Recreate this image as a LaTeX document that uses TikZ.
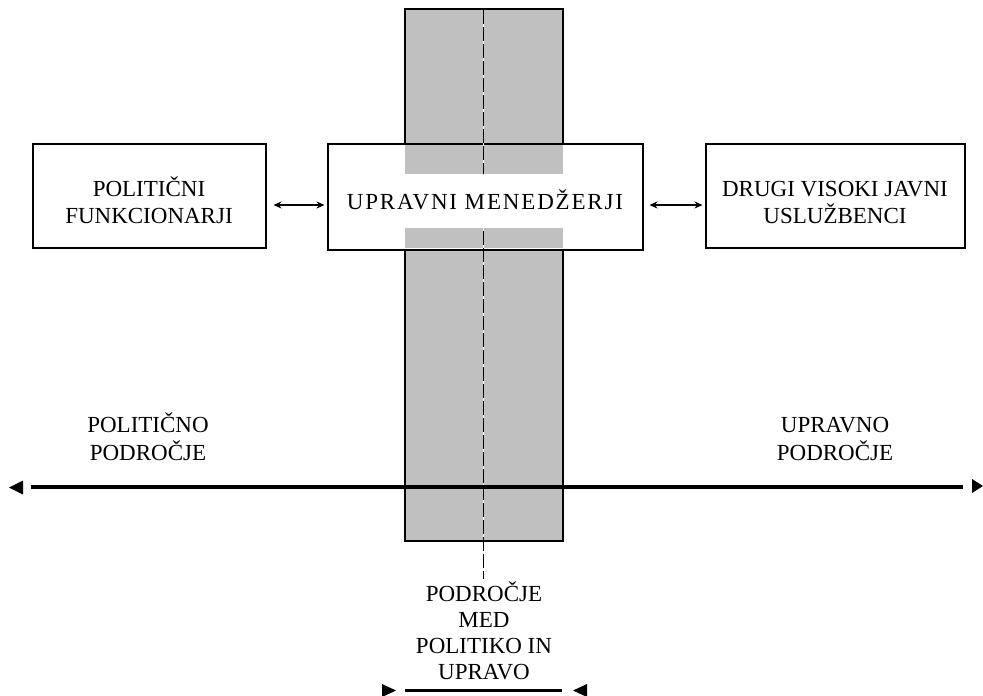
\documentclass[tikz,border=0pt]{standalone}
\usepackage{fontspec}
\setmainfont{Liberation Serif}
\usetikzlibrary{arrows.meta,calc}
\definecolor{zonegray}{HTML}{C0C0C0}
% struts that fix the first-line height and last-line depth of stacked labels
\newcommand\tstrut{\rule{0pt}{33pt}}
\newcommand\bstrut{\rule[-5pt]{0pt}{5pt}}
\begin{document}
\begin{tikzpicture}[x=1pt,y=-1pt,
  txt/.style={font=\fontsize{23}{27}\selectfont},
  actor/.style={txt, draw, line width=2pt, fill=white, inner sep=0pt, align=center},
  lbl/.style={font=\fontsize{23}{28}\selectfont, inner sep=0pt, align=center, anchor=north},
  link/.style={{Stealth[length=8pt,width=7pt]}-{Stealth[length=8pt,width=7pt]}, line width=1.2pt},
  axis/.style={line width=3.4pt},
  span/.style={line width=2.2pt},
  tip/.style={fill=black}
]
\useasboundingbox (0,0) rectangle (983,696);

% grey zone between politics and administration
\filldraw[fill=zonegray, line width=2.2pt] (405,9) rectangle (563,541);

% the three actors
\node[actor, minimum width=233pt, minimum height=104pt] (pf) at (149,195.5)
  {\tstrut POLITIČNI\\FUNKCIONARJI\bstrut};
\node[actor, minimum width=315pt, minimum height=106pt,
      font=\fontsize{23}{27}\selectfont\addfontfeature{LetterSpace=8},
      text height=25pt, text depth=0pt] (um) at (485,196.5)
  {UPRAVNI MENEDŽERJI};
\node[actor, minimum width=259pt, minimum height=104pt] (dj) at (835,195.5)
  {\tstrut DRUGI VISOKI JAVNI\\USLUŽBENCI\bstrut};

% grey strips of the zone inside the managers' box
\fill[zonegray] (405,144.6) rectangle (563,174);
\fill[zonegray] (405,228) rectangle (563,248.4);

% dashed centre line of the zone, interrupted behind the managers' label
\coordinate (dtop) at (483.5,10);
\coordinate (dzone) at (483.5,541);
\coordinate (dbot) at (483.5,579);
\begin{scope}
  \clip (0,0) rectangle (983,174) (0,228) rectangle (983,696);
  \draw[white, line width=1.4pt] (dtop) -- (dzone);
  \draw[line width=1.4pt, dash pattern=on 14pt off 3pt] (dtop) -- (dbot);
\end{scope}

% mutual links between the actors
\coordinate (ay) at (0,205);
\draw[link, shorten <=7pt, shorten >=2pt] (pf.east |- ay) -- (um.west |- ay);
\draw[link, shorten <=6pt, shorten >=2pt] (um.east |- ay) -- (dj.west |- ay);

% the political--administrative axis
\coordinate (axL) at (31,487);
\coordinate (axR) at (963,487);
\draw[axis] (axL) -- (axR);
\fill[tip] (9,487.5) -- (23,480.5) -- (23,494.5) -- cycle;
\fill[tip] (983,486) -- (972,479) -- (972,493) -- cycle;

\node[lbl] (pol) at (148,399) {\tstrut POLITIČNO\\PODROČJE\bstrut};
\node[lbl] (upr) at (835,399) {\tstrut UPRAVNO\\PODROČJE\bstrut};

% extent of the zone between politics and administration
\node[lbl, font=\fontsize{23}{26}\selectfont] (med) at (484,568)
  {\tstrut PODROČJE\\MED\\POLITIKO IN\\UPRAVO\bstrut};
\coordinate (spL) at (405,690.5);
\coordinate (spR) at (562,690.5);
\draw[span] (spL) -- (spR);
\fill[tip] (396,690.5) -- (382,684) -- (382,697) -- cycle;
\fill[tip] (573,690.5) -- (587,684) -- (587,697) -- cycle;
\end{tikzpicture}
\end{document}
